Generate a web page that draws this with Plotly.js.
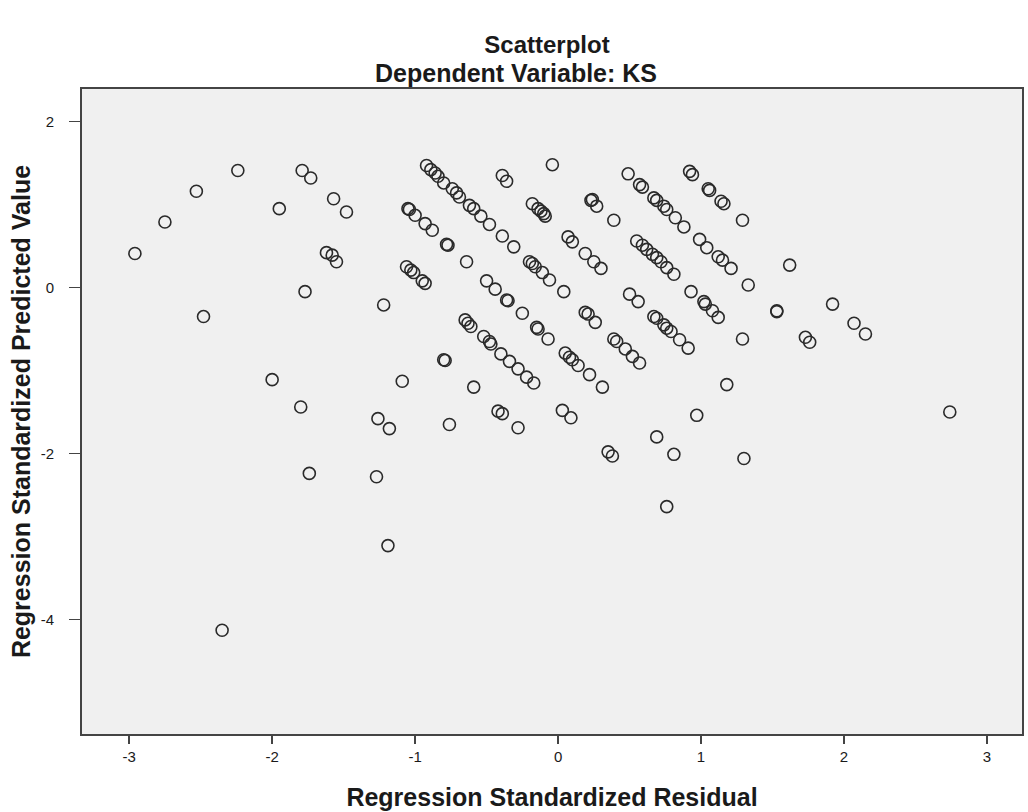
<!DOCTYPE html>
<html>
<head>
<meta charset="utf-8">
<script src="https://cdn.plot.ly/plotly-3.0.1.min.js"></script>
<style>
  html, body { margin: 0; padding: 0; background: #ffffff; }
  #chart { width: 1028px; height: 812px; }
</style>
</head>
<body>
<div id="chart"></div>
<script>
// Regression diagnostics: standardized residual (x) vs standardized predicted value (y)
const residual = [
  -2.24, -2.53, -2.75, -2.96, -1.79, -1.73, -1.95, -1.57, -1.48, -1.62, -1.58, -1.55, -1.77, -2.48,
  -1.22, -2.00, -1.80, -1.74, -1.26, -1.18, -1.09, -1.27, -1.19, -2.35, -0.80, -0.79, -0.59, -0.76,
  -0.92, -0.89, -0.86, -0.84, -0.80, -0.74, -0.71, -0.69, -0.62, -0.59, -0.54, -0.48, -0.39, -0.31,
  -0.20, -0.18, -0.16, -0.11, -0.06, 0.04, 0.19, 0.21, 0.26, 0.39, 0.41, 0.47, 0.52, 0.57,
  -0.39, -0.36, -0.04, -0.18, -0.14, -0.12, -0.10, -0.09, 0.24, 0.23, 0.27, 0.39, 0.07, 0.10, 0.19, 0.25, 0.30,
  -1.05, -1.04, -1.00, -0.93, -0.88, -0.77, -0.78, -0.64, -1.06, -1.03, -1.01, -0.95, -0.93,
  -0.50, -0.44, -0.36, -0.35, -0.25,
  -0.65, -0.63, -0.61, -0.52, -0.48, -0.47, -0.40, -0.34, -0.28, -0.22, -0.17,
  -0.15, -0.14, -0.07, 0.05, 0.08, 0.10, 0.14, 0.22, 0.31,
  -0.42, -0.39, -0.28, 0.03, 0.09, 0.35, 0.38,
  0.49, 0.57, 0.59, 0.67, 0.69, 0.74, 0.76, 0.82, 0.88, 0.92, 0.94, 1.05, 1.06, 1.14, 1.16, 1.29,
  0.55, 0.59, 0.62, 0.66, 0.69, 0.72, 0.76, 0.81, 0.99, 1.04, 1.12, 1.15, 1.21, 1.33,
  0.50, 0.56, 0.67, 0.69, 0.74, 0.76, 0.79, 0.85, 0.91, 0.93, 1.02, 1.03, 1.08, 1.12,
  1.53, 1.53, 1.62, 1.29, 1.18, 1.73, 1.76, 1.92, 2.07, 2.15, 2.74, 0.97, 0.69, 0.81, 1.30, 0.76
];

const predicted = [
  1.41, 1.16, 0.79, 0.41, 1.41, 1.32, 0.95, 1.07, 0.91, 0.42, 0.39, 0.31, -0.05, -0.35,
  -0.21, -1.11, -1.44, -2.24, -1.58, -1.70, -1.13, -2.28, -3.11, -4.13, -0.87, -0.88, -1.20, -1.65,
  1.47, 1.42, 1.38, 1.34, 1.26, 1.19, 1.14, 1.09, 0.99, 0.95, 0.86, 0.76, 0.62, 0.49,
  0.31, 0.29, 0.25, 0.18, 0.09, -0.05, -0.30, -0.32, -0.42, -0.62, -0.65, -0.74, -0.83, -0.91,
  1.35, 1.28, 1.48, 1.01, 0.95, 0.92, 0.89, 0.86, 1.06, 1.05, 0.98, 0.81, 0.61, 0.55, 0.41, 0.31, 0.23,
  0.95, 0.94, 0.87, 0.77, 0.69, 0.51, 0.52, 0.31, 0.25, 0.21, 0.18, 0.08, 0.05,
  0.08, -0.02, -0.15, -0.16, -0.31,
  -0.39, -0.43, -0.47, -0.59, -0.65, -0.68, -0.80, -0.89, -0.98, -1.08, -1.15,
  -0.48, -0.50, -0.62, -0.79, -0.84, -0.87, -0.94, -1.05, -1.20,
  -1.49, -1.52, -1.69, -1.48, -1.57, -1.98, -2.03,
  1.37, 1.24, 1.21, 1.08, 1.05, 0.98, 0.94, 0.84, 0.73, 1.40, 1.36, 1.19, 1.17, 1.04, 1.01, 0.81,
  0.56, 0.51, 0.46, 0.40, 0.36, 0.31, 0.24, 0.16, 0.58, 0.48, 0.37, 0.33, 0.23, 0.03,
  -0.08, -0.17, -0.35, -0.37, -0.45, -0.49, -0.53, -0.63, -0.73, -0.05, -0.17, -0.20, -0.28, -0.36,
  -0.28, -0.29, 0.27, -0.62, -1.17, -0.60, -0.66, -0.20, -0.43, -0.56, -1.50, -1.54, -1.80, -2.01, -2.06, -2.64
];

const xTicks = [-3, -2, -1, 0, 1, 2, 3];
const yTicks = [2, 0, -2, -4];

const chartTitle = 'Scatterplot';
const chartSubtitle = 'Dependent Variable: KS';
const xLabel = 'Regression Standardized Residual';
const yLabel = 'Regression Standardized Predicted Value';

const FONT = '"Liberation Sans", Arial, sans-serif';
const INK = '#1a1a1a';

const trace = {
  type: 'scatter',
  mode: 'markers',
  x: residual,
  y: predicted,
  marker: {
    symbol: 'circle-open',
    size: 12,
    color: '#2a2a2a',
    line: { width: 1.6, color: '#2a2a2a' }
  },
  hoverinfo: 'x+y'
};

const axisCommon = {
  showgrid: false,
  zeroline: false,
  showline: true,
  mirror: true,
  linecolor: '#444444',
  linewidth: 2,
  ticks: 'outside',
  tickwidth: 1.5,
  tickcolor: '#444444',
  tickfont: { family: FONT, size: 15, color: INK },
  automargin: false
};

const layout = {
  width: 1028,
  height: 812,
  margin: { l: 82, r: 6, t: 89, b: 78 },
  paper_bgcolor: '#ffffff',
  plot_bgcolor: '#f0f0f0',
  showlegend: false,
  title: {
    text: '<b>' + chartTitle + '</b>',
    font: { family: FONT, size: 24, color: INK },
    x: (547 - 82) / 940, xref: 'paper', xanchor: 'center',
    y: 40, yref: 'container', yanchor: 'middle'
  },
  annotations: [{
    text: '<b>' + chartSubtitle + '</b>',
    font: { family: FONT, size: 25, color: INK },
    xref: 'paper', yref: 'paper',
    x: (516 - 82) / 940, y: 1 + (89 - 73) / 645,
    xanchor: 'center', yanchor: 'middle',
    showarrow: false
  }],
  xaxis: Object.assign({}, axisCommon, {
    range: [-3.33, 3.245],
    ticklen: 8,
    tickvals: xTicks,
    ticktext: xTicks.map(String),
    title: {
      text: '<b>' + xLabel + '</b>',
      font: { family: FONT, size: 25, color: INK },
      standoff: 24
    }
  }),
  yaxis: Object.assign({}, axisCommon, {
    range: [-5.38, 2.392],
    ticklen: 11,
    ticklabelstandoff: 12,
    tickvals: yTicks,
    ticktext: yTicks.map(String),
    title: {
      text: '<b>' + yLabel + '</b>',
      font: { family: FONT, size: 25, color: INK },
      standoff: 3
    }
  })
};

Plotly.newPlot('chart', [trace], layout, { displayModeBar: false, staticPlot: true });
</script>
</body>
</html>
